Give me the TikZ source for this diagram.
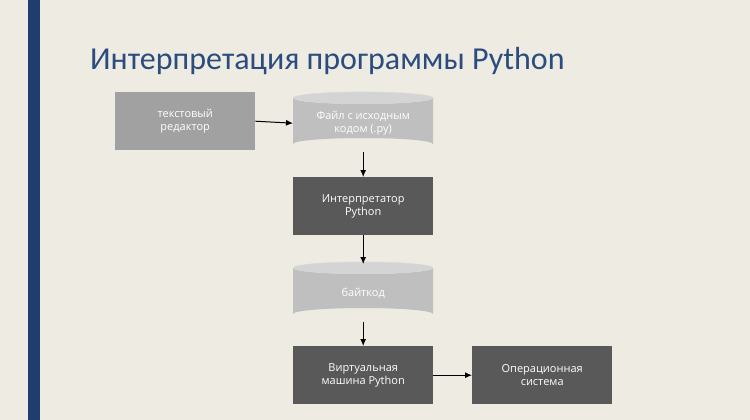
\documentclass[tikz,border=0pt]{standalone}
\usepackage{fontspec}
\setmainfont{Open Sans}
\newfontfamily\titlefont{Carlito}
\usetikzlibrary{arrows.meta}
\begin{document}
\begin{tikzpicture}[x=1pt,y=-1pt,
  blk/.style={minimum width=140pt,minimum height=58pt,inner sep=0pt,align=center,text=white,font=\fontsize{11}{13}\selectfont,anchor=north west},
  dark/.style={blk,fill=black!65},
  mid/.style={blk,fill=black!37},
  cyl/.style={blk},
  arr/.style={-{Latex[length=7pt,width=6pt]},line width=1pt}]
\useasboundingbox (0,0) rectangle (750,420);
\fill[fill={rgb,255:red,238;green,235;blue,227}] (0,0) rectangle (750,420);
\fill[fill={rgb,255:red,31;green,62;blue,110}] (28,0) rectangle (40,420);
\node[anchor=west,font=\titlefont\fontsize{32}{36}\selectfont,text={rgb,255:red,43;green,76;blue,126},inner sep=0pt] (title) at (90,61) {Интерпретация программы Python};
% cylinders backgrounds
\def\cylshape#1#2{%
  \fill[black!25] (#1,#2+6) -- (#1,#2+52) arc[start angle=180,end angle=360,x radius=70,y radius=6] -- (#1+140,#2+6) arc[start angle=0,end angle=180,x radius=70,y radius=6] -- cycle;
  \fill[black!17] (#1+70,#2+6) ellipse[x radius=70,y radius=6];
  \draw[black!15,line width=0.6pt] (#1,#2+6) arc[start angle=180,end angle=360,x radius=70,y radius=6];}
\cylshape{293}{92}
\cylshape{293}{262}
\node[mid] (ed) at (115,92) {текстовый\\редактор};
\node[cyl] (src) at (293,94) {Файл с исходным\\кодом (.py)};
\node[dark] (int) at (293,177) {Интерпретатор\\Python};
\node[cyl] (bc) at (293,264) {байткод};
\node[dark] (vm) at (293,346) {Виртуальная\\машина Python};
\node[dark] (os) at (472,346) {Операционная\\система};
\draw[arr] (ed.east) -- (src.west);
\draw[arr] (src.south) -- (int.north);
\draw[arr] (int.south) -- (bc.north);
\draw[arr] (bc.south) -- (vm.north);
\draw[arr] (vm.east) -- (os.west);
\end{tikzpicture}
\end{document}
